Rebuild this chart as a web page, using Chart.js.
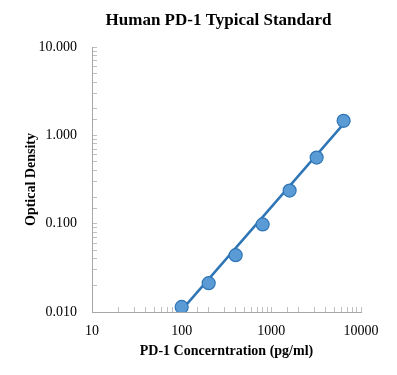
<!DOCTYPE html>
<html>
<head>
<meta charset="utf-8">
<script src="https://cdn.jsdelivr.net/npm/chart.js@4"></script>
<style>
  html, body { margin: 0; padding: 0; background: #fff; }
  #wrap { width: 397px; height: 375px; }
</style>
</head>
<body>
<div id="wrap"><canvas id="stdChart" width="397" height="375"></canvas></div>
<script>
// Standard curve data
const concentrations = [100, 200, 400, 800, 1600, 3200, 6400];
const odValues = [0.0114, 0.0212, 0.044, 0.098, 0.237, 0.56, 1.46];
// trendline end points (power fit as drawn)
const fitX = [100, 6400];
const fitY = [0.0105, 1.35];
const yMajor = [0.01, 0.1, 1, 10];
const xMajor = [10, 100, 1000, 10000];

const serif = "'Liberation Serif', 'Times New Roman', serif";

// title centred a little left of the plot, like the original
const titlePlugin = {
  id: "chartTitle",
  afterDraw(chart) {
    const ctx = chart.ctx;
    const area = chart.chartArea;
    ctx.save();
    ctx.font = "bold 17px " + serif;
    ctx.fillStyle = "#000";
    ctx.textAlign = "center";
    ctx.textBaseline = "middle";
    ctx.fillText("Human PD-1 Typical Standard", (area.left + area.right) / 2 - 8, 21);
    ctx.restore();
  }
};

const isMajor = (v, list) => list.some(m => Math.abs(v - m) / m < 1e-6);

const ctx = document.getElementById("stdChart").getContext("2d");
new Chart(ctx, {
  data: {
    datasets: [
      {
        type: "line",
        label: "Fit",
        data: fitX.map((x, i) => ({ x: x, y: fitY[i] })),
        borderColor: "#2e75b6",
        borderWidth: 2.5,
        pointRadius: 0,
        fill: false,
        order: 2
      },
      {
        type: "scatter",
        label: "Standard",
        data: concentrations.map((x, i) => ({ x: x, y: odValues[i] })),
        backgroundColor: "#5b9bd5",
        borderColor: "#2e75b6",
        borderWidth: 1.2,
        pointRadius: 6.5,
        order: 1
      }
    ]
  },
  options: {
    responsive: false,
    animation: false,
    layout: { padding: { left: 12, right: 36, top: 47, bottom: 15 } },
    plugins: {
      legend: { display: false },
      tooltip: { enabled: false },
      title: { display: false }
    },
    scales: {
      x: {
        type: "logarithmic",
        position: "bottom",
        min: 10,
        max: 10000,
        afterFit: s => { s.height = 48; },
        grid: { drawOnChartArea: false, drawTicks: true, tickLength: -5, color: "#bfbfbf" },
        border: { display: true, color: "#a6a6a6" },
        ticks: {
          autoSkip: false,
          maxRotation: 0,
          padding: 16,
          color: "#000",
          font: { family: serif, size: 14 },
          callback: v => (isMajor(v, xMajor) ? String(v) : "")
        },
        title: {
          display: true,
          text: "PD-1 Concerntration (pg/ml)",
          color: "#000",
          font: { family: serif, size: 14, weight: "bold" },
          padding: { top: 0, bottom: 0 }
        }
      },
      y: {
        type: "logarithmic",
        min: 0.01,
        max: 10,
        grid: { drawOnChartArea: false, drawTicks: true, tickLength: -5, color: "#bfbfbf" },
        border: { display: true, color: "#a6a6a6" },
        afterFit: s => { s.width = 80; },
        ticks: {
          autoSkip: false,
          padding: 20,
          color: "#000",
          font: { family: serif, size: 14 },
          callback: v => (isMajor(v, yMajor) ? v.toFixed(3) : "")
        },
        title: {
          display: true,
          text: "Optical Density",
          color: "#000",
          font: { family: serif, size: 14, weight: "bold" },
          padding: { top: 11, bottom: 0 }
        }
      }
    }
  },
  plugins: [titlePlugin]
});
</script>
</body>
</html>
